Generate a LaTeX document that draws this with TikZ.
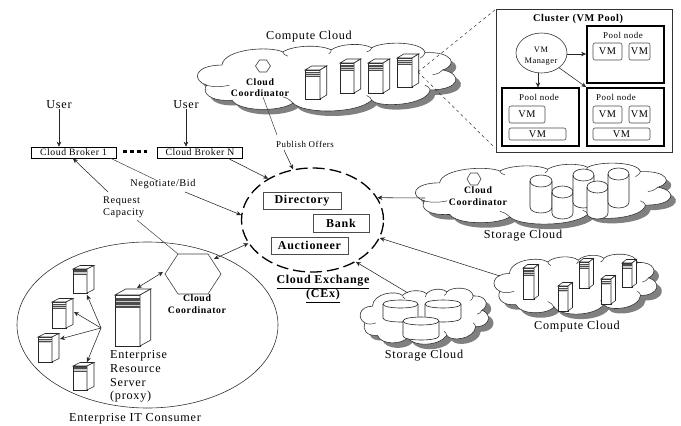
\documentclass[tikz,border=0pt]{standalone}
\usepackage{fontspec}
\setmainfont[LetterSpace=6]{Liberation Serif}
\usetikzlibrary{arrows.meta,shapes.geometric}
\tikzset{
  big/.style={font=\fontsize{12.2}{13}\selectfont,inner sep=0pt},
  mid/.style={font=\fontsize{10.3}{11}\selectfont,inner sep=0pt},
  small/.style={font=\fontsize{8.9}{10}\selectfont,inner sep=0pt},
  coord/.style={font=\fontsize{9.8}{11.5}\selectfont\bfseries,inner sep=0pt,align=center},
  bigb/.style={font=\fontsize{12}{14}\selectfont\bfseries,inner sep=0pt,align=center},
  ebox/.style={draw=black!70,line width=0.8pt,inner sep=0pt,font=\fontsize{12}{14}\selectfont\bfseries},
  brokerbox/.style={draw=black,line width=0.6pt,inner sep=0pt,minimum width=85pt,minimum height=11pt,font=\fontsize{9.7}{11}\selectfont},
  poolbox/.style={draw=black,line width=1.8pt,fill=white,inner sep=0pt},
  vmbox/.style={draw=black!70,line width=0.6pt,rounded corners=2pt,inner sep=0pt,font=\fontsize{10.3}{11}\selectfont},
  arrow/.style={-{Stealth[length=5pt,width=4.5pt]},line width=0.55pt,black!85},
  darrow/.style={{Stealth[length=5pt,width=4.5pt]}-{Stealth[length=5pt,width=4.5pt]},line width=0.55pt,black!85},
  plainline/.style={line width=0.5pt,black!75},
  hex/.style={draw=black!75,line width=0.6pt,fill=white}
}
\newcommand{\cloudpath}{(3,61) .. controls (-3,54) and (-2,32) .. (9,32)
  .. controls (10,8) and (28,4) .. (33,13)
  .. controls (37,3) and (48,2) .. (52,10)
  .. controls (56,0) and (65,0) .. (68,7)
  .. controls (72,-3) and (88,-3) .. (89,14)
  .. controls (100,12) and (102,32) .. (96,39)
  .. controls (104,45) and (103,68) .. (91,68)
  .. controls (90,90) and (71,95) .. (68,83)
  .. controls (62,103) and (41,103) .. (37,87)
  .. controls (32,100) and (16,100) .. (13,83)
  .. controls (4,85) and (1,72) .. (3,61) -- cycle}
\newcommand{\cloudat}[4]{%
  \begin{scope}[shift={(#1+5,#2+5)},xscale=#3/100,yscale=#4/100]
    \fill[black!50] \cloudpath;
  \end{scope}
  \begin{scope}[shift={(#1,#2)},xscale=#3/100,yscale=#4/100]
    \draw[black!80,line width=0.6pt,fill=white] \cloudpath;
    \draw[black!80,line width=0.5pt]
      (3,61) .. controls (5,64) and (9,64) .. (12,61)
      (33,13) .. controls (33,16) and (34,18) .. (35,19)
      (52,10) .. controls (52,12) and (52,14) .. (51,16)
      (68,7) .. controls (68,10) and (67,12) .. (66,13)
      (89,14) .. controls (89,17) and (88,20) .. (87,22)
      (96,39) .. controls (95,43) and (94,45) .. (92,46)
      (91,68) .. controls (91,65) and (90,63) .. (89,61)
      (68,83) .. controls (68,80) and (67,78) .. (66,76)
      (37,87) .. controls (36,83) and (35,80) .. (33,78);
  \end{scope}}
% x1 y1 x2 y2 dx dy
\newcommand{\srv}[6]{%
  \draw[black!85,line width=0.6pt,fill=white] (#1,#2) rectangle (#3,#4);
  \draw[black!85,line width=0.6pt,fill=white] (#1,#2) -- (#1+#5,#2+#6) -- (#3+#5,#2+#6) -- (#3,#2) -- cycle;
  \draw[black!85,line width=0.6pt,fill=white] (#3,#2) -- (#3+#5,#2+#6) -- (#3+#5,#4+#6) -- (#3,#4) -- cycle;
  \fill[black!70] (#1+0.5,{#2+0.06*(#4-#2)}) rectangle (#3-0.5,{#2+0.25*(#4-#2)});
  \draw[white!80!black,line width=0.35pt] (#1+0.5,{#2+0.125*(#4-#2)}) -- (#3-0.5,{#2+0.125*(#4-#2)})
     (#1+0.5,{#2+0.19*(#4-#2)}) -- (#3-0.5,{#2+0.19*(#4-#2)});}
% x1 ytop x2 ybot ry
\newcommand{\cyl}[5]{%
  \draw[black!85,line width=0.6pt,fill=white] (#1,#2+#5) -- (#1,#4-#5)
    .. controls (#1,#4+0.33*#5) and (#3,#4+0.33*#5) .. (#3,#4-#5) -- (#3,#2+#5)
    .. controls (#3,#2-0.33*#5) and (#1,#2-0.33*#5) .. (#1,#2+#5) -- cycle;
  \draw[black!85,line width=0.6pt] (#1,#2+#5)
    .. controls (#1,#2+2.33*#5) and (#3,#2+2.33*#5) .. (#3,#2+#5);}
\begin{document}
\begin{tikzpicture}[x=1pt,y=-1pt]
\useasboundingbox (0,0) rectangle (681,426);
\fill[white] (0,0) rectangle (681,426);

% zoom lines
\coordinate (zoomfrom) at (418,72);
\coordinate (zoomtop) at (496,9);
\coordinate (zoombot) at (495,148);

% top compute cloud
\cloudat{199}{43}{254}{69}
\srv{305}{70}{320}{99}{6.7}{-4}
\srv{340}{63}{354}{93}{6.7}{-4}
\srv{368}{63}{383}{93}{6.7}{-4}
\srv{397}{58}{412}{87}{6.7}{-4}
\draw[hex] (255.5,66) -- (259.5,60) -- (266.5,60) -- (270.5,66) -- (266.5,72) -- (259.5,72) -- cycle;
\node[big] (topcloudlabel) at (309,37) {Compute Cloud};
\node[coord] (cc1) at (260,87.5) {Cloud\\Coordinator};
\draw[dashed,line width=0.5pt,black!80] (zoomfrom) -- (zoomtop) (zoomfrom) -- (zoombot);

% cluster panel
\node[draw=black!80,line width=0.6pt,fill=white,minimum width=176pt,minimum height=143pt,inner sep=0pt] (panel) at (584,80.5) {};
\node[font=\fontsize{10.3}{11}\selectfont\bfseries,inner sep=0pt] (clustertitle) at (578,19) {Cluster (VM Pool)};
\node[poolbox,minimum width=77pt,minimum height=57pt] (pn1) at (625.5,54.5) {};
\node[poolbox,minimum width=77pt,minimum height=58pt] (pn2) at (540.5,117) {};
\node[poolbox,minimum width=77pt,minimum height=58pt] (pn3) at (625.5,117) {};
\node[small] (pl1) at (623,35) {Pool node};
\node[small] (pl2) at (539,97) {Pool node};
\node[small] (pl3) at (616,97) {Pool node};
\node[vmbox,minimum width=29pt,minimum height=17pt] (v1) at (607.5,51.5) {VM};
\node[vmbox,minimum width=21pt,minimum height=17pt] (v2) at (639.5,51.5) {VM};
\node[vmbox,minimum width=36pt,minimum height=17pt] (v3) at (527,114.5) {VM};
\node[vmbox,minimum width=57pt,minimum height=12pt] (v4) at (537.5,134) {VM};
\node[vmbox,minimum width=29pt,minimum height=17pt] (v5) at (607.5,114.5) {VM};
\node[vmbox,minimum width=21pt,minimum height=17pt] (v6) at (639.5,114.5) {VM};
\node[vmbox,minimum width=57pt,minimum height=12pt] (v7) at (621.5,134) {VM};
\node[draw=black!80,line width=0.6pt,fill=white,ellipse,minimum width=51pt,minimum height=40pt,inner sep=0pt] (mgr) at (541.5,53) {};
\node[font=\fontsize{8.4}{11}\selectfont,inner sep=0pt,align=center] (mgrtext) at (541,56.5) {VM\\Manager};
\draw[arrow] (mgr.east |- 0,54) -- (pn1.west |- 0,54);
\draw[arrow] (538,73) -- (538,87.5);
\draw[arrow] (mgr.-40) -- (pn3.north west);

% storage right
\cloudat{417}{163}{251}{62}
\cyl{530}{175}{552}{213}{6}
\cyl{552}{186}{573}{219}{6}
\cyl{573}{169}{594}{208}{6}
\cyl{587}{181}{608}{219}{6}
\cyl{608}{168}{629}{208}{6}
\draw[hex] (467,179) -- (470.5,173) -- (477.5,173) -- (481,179) -- (477.5,185) -- (470.5,185) -- cycle;
\node[coord] (cc2) at (478,196) {Cloud\\Coordinator};
\node[big] (sclabel1) at (523,236) {Storage Cloud};

% compute right
\cloudat{495}{254}{160}{61}
\srv{523}{268}{534}{299}{4.5}{-3.5}
\srv{558}{286}{568}{311}{4.5}{-3.5}
\srv{579}{262}{589}{288}{4.5}{-3.5}
\srv{601}{279}{611}{304}{4.5}{-3.5}
\srv{622}{263}{632}{287}{4.5}{-3.5}
\node[big] (cclabel2) at (577,327) {Compute Cloud};

% storage lower
\cloudat{361}{288}{126}{57}
\cyl{383}{300}{418}{322}{4}
\cyl{425}{300}{461}{322}{4}
\cyl{403}{317}{439}{340}{4}
\node[big] (sclabel2) at (424,356) {Storage Cloud};

% enterprise
\node[draw=black!80,line width=0.6pt,ellipse,minimum width=261pt,minimum height=166pt,inner sep=0pt] (ent) at (147.5,325) {};
\node[big] (entlabel) at (135,419) {Enterprise IT Consumer};
\draw[hex] (165,274) -- (178,254) -- (208,254) -- (221,274) -- (208,294) -- (178,294) -- cycle;
\coordinate (hexNW) at (178,254);
\coordinate (hexNE) at (214,259);
\coordinate (hexW) at (163,272);
\coordinate (bigsrv) at (137,288);
\node[coord] (cc3) at (197,304) {Cloud\\Coordinator};
\srv{115}{295}{140}{346}{10.7}{-6}
\srv{73}{269}{87}{293}{7}{-3.5}
\srv{52}{302}{66}{328}{7}{-3.5}
\srv{38}{337}{52}{362}{7}{-3.5}
\srv{73}{366}{87}{390}{7}{-3.5}
\node[big,align=left,anchor=north west,font=\fontsize{12.2}{13.9}\selectfont] (ers) at (110,350) {Enterprise\\Resource\\Server\\(proxy)};
\coordinate (hub) at (101,328);
\coordinate (sa) at (87,295);
\coordinate (sb) at (74,312);
\coordinate (sc) at (60,339);
\coordinate (sd) at (87,362);
\draw[arrow] (hub) -- (sa);
\draw[arrow] (hub) -- (sb);
\draw[arrow] (hub) -- (sc);
\draw[arrow] (hub) -- (sd);
\draw[darrow] (hexW) -- (bigsrv);

% exchange
\node[draw=black,line width=1.3pt,dash pattern=on 12pt off 5pt,ellipse,minimum width=142pt,minimum height=104pt,inner sep=0pt] (cex) at (312.5,220) {};
\node[ebox,minimum width=78pt,minimum height=17pt] (dir) at (302,200.5) {Directory};
\node[ebox,minimum width=56pt,minimum height=18pt] (bank) at (341,223) {Bank};
\node[ebox,minimum width=77pt,minimum height=17pt] (auc) at (309.5,245.5) {Auctioneer};
\node[bigb] (cexlabel) at (323,289) {\underline{Cloud Exchange}\\\underline{(CEx)}};

% brokers and users
\node[brokerbox] (b1) at (73.5,152.5) {Cloud Broker 1};
\node[brokerbox] (bn) at (200,152.5) {Cloud Broker N};
\node[big] (u1) at (59,105) {User};
\node[big] (u2) at (186,105) {User};
\draw[arrow] (u1.south) -- (b1.north -| u1.south);
\draw[arrow] (u2.south) -- (bn.north -| u2.south);
\draw[line width=3pt,dash pattern=on 3.6pt off 3.2pt] (b1.east |- 0,151.5) ++(7,0) -- ++(24,0);

% labels and connectors
\node[mid] (neg) at (163,184) {Negotiate/Bid};
\node[mid,align=left,anchor=north west,font=\fontsize{10.3}{11.3}\selectfont] (rc) at (103,197) {Request\\Capacity};
\node[small] (pub) at (305,144) {Publish Offers};
\coordinate (b1neg) at (110,158);
\coordinate (negin) at (158,181);
\coordinate (negout) at (185,192);
\draw[plainline] (b1neg) -- (negin);
\draw[arrow] (negout) -- (cex.176);
\draw[arrow] (bn.south) ++(28,0) -- (cex.137);
\coordinate (rcup) at (108,192);
\coordinate (b1req) at (73,158.5);
\draw[arrow] (rcup) -- (b1req);
\coordinate (rcdown) at (137,220);
\draw[plainline] (rcdown) -- (hexNW);
\coordinate (cc1low) at (263,97);
\coordinate (pubin) at (277,135);
\draw[plainline] (cc1low) -- (pubin);
\coordinate (pubout) at (284,150);
\draw[arrow] (pubout) -- (cex.111);
\coordinate (scr) at (425,198);
\draw[arrow] (scr) -- (cex.19);
\coordinate (ccr) at (500,276);
\draw[arrow] (ccr) -- (cex.-15);
\coordinate (scl) at (408,293);
\draw[arrow] (scl) -- (cex.-44);
\draw[darrow] (hexNE) -- (cex.200);
\end{tikzpicture}
\end{document}
